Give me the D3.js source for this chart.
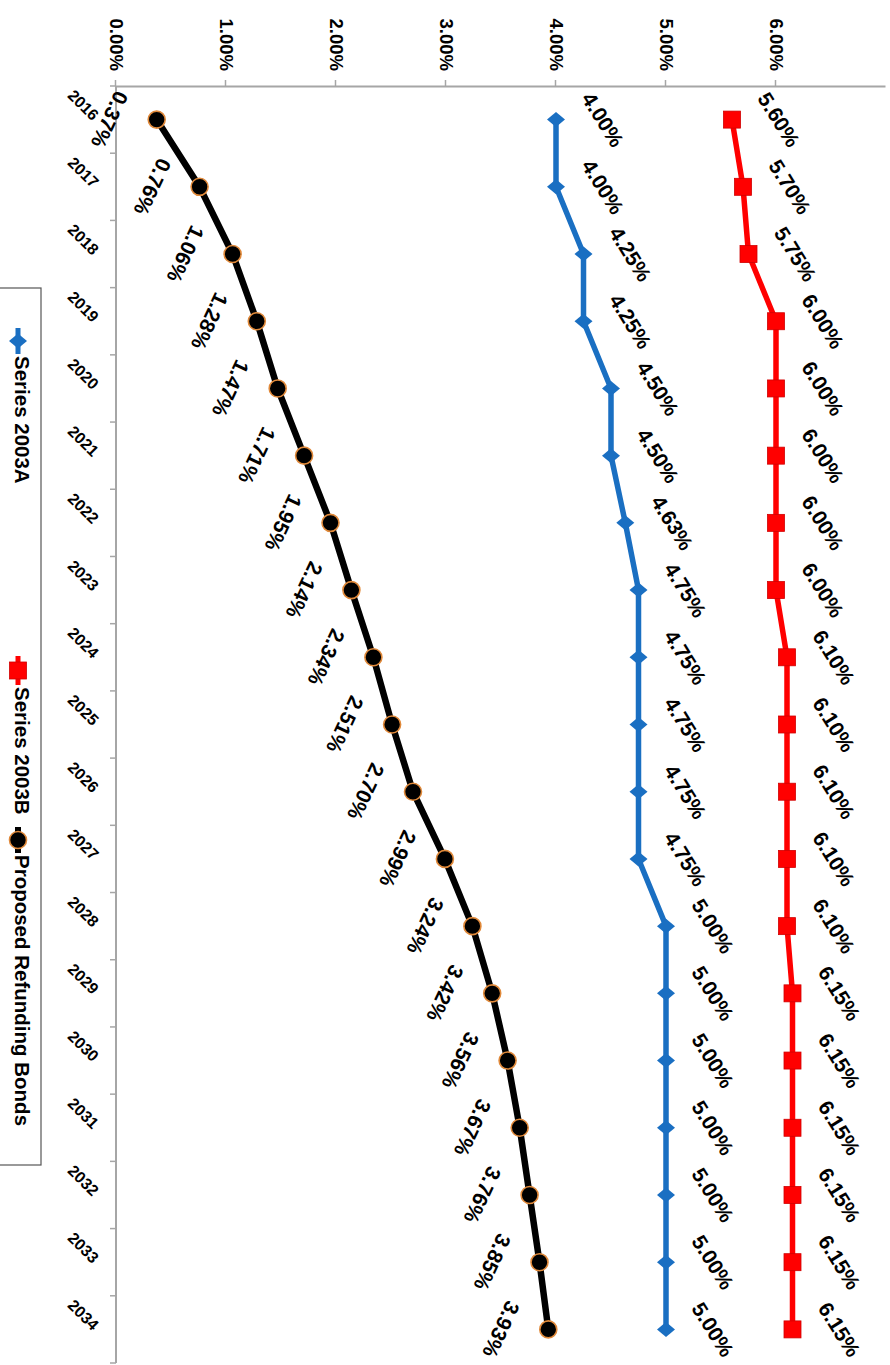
<!DOCTYPE html>
<html><head><meta charset="utf-8">
<script src="https://cdn.jsdelivr.net/npm/d3@7"></script>
<style>
html,body{margin:0;padding:0;background:#fff;}
svg{display:block;}
text{font-family:"Liberation Sans",Arial,sans-serif;}
</style>
</head><body>
<svg id="c" width="890" height="1365"></svg>
<script>
const years = ["2016","2017","2018","2019","2020","2021","2022","2023","2024","2025","2026","2027","2028","2029","2030","2031","2032","2033","2034"];
const series2003A = [4.00,4.00,4.25,4.25,4.50,4.50,4.63,4.75,4.75,4.75,4.75,4.75,5.00,5.00,5.00,5.00,5.00,5.00,5.00];
const series2003B = [5.60,5.70,5.75,6.00,6.00,6.00,6.00,6.00,6.10,6.10,6.10,6.10,6.10,6.15,6.15,6.15,6.15,6.15,6.15];
const proposed = [0.37,0.76,1.06,1.28,1.47,1.71,1.95,2.14,2.34,2.51,2.70,2.99,3.24,3.42,3.56,3.67,3.76,3.85,3.93];
const valueTicks = [0,1,2,3,4,5,6];
const seriesNames = ["Series 2003A","Series 2003B","Proposed Refunding Bonds"];

const pct = d => d3.format(".2f")(d) + "%";

const svg = d3.select("#c");
svg.append("rect").attr("width",890).attr("height",1365).attr("fill","#fff");
// chart is drawn in an unrotated 1365x890 frame, then turned 90deg clockwise
const g = svg.append("g").attr("transform","translate(890,0) rotate(90)");

const x = d3.scaleBand().domain(years).range([86,1363]).padding(0);
const cx = d => x(d) + x.bandwidth()/2;
const y = d3.scaleLinear().domain([0,7]).range([774,4]);

const axisColor = "#a6a6a6";

// value axis
const va = g.append("g").attr("transform","translate(86,0)")
  .call(d3.axisLeft(y).tickValues(valueTicks).tickSizeInner(6).tickSizeOuter(0).tickPadding(9).tickFormat(pct));
va.select(".domain").attr("stroke",axisColor).attr("stroke-width",2);
va.selectAll(".tick line").attr("stroke",axisColor).attr("stroke-width",1.5);
va.selectAll(".tick text").attr("font-size",18.5).attr("font-weight","bold").attr("fill","#000")
  .attr("font-family","'Liberation Sans',Arial,sans-serif");

// category axis
const ca = g.append("g");
ca.append("line").attr("x1",x.range()[0]).attr("x2",x.range()[1]).attr("y1",y(0)).attr("y2",y(0))
  .attr("stroke",axisColor).attr("stroke-width",2);
const bounds = years.map(d => x(d)).concat([x.range()[1]]);
ca.selectAll("line.tk").data(bounds).join("line").attr("class","tk")
  .attr("x1",d=>d).attr("x2",d=>d).attr("y1",y(0)).attr("y2",y(0)+6)
  .attr("stroke",axisColor).attr("stroke-width",1.5);
ca.selectAll("text.yr").data(years).join("text").attr("class","yr")
  .attr("transform",d=>`translate(${cx(d)+2},${y(0)+24}) rotate(-45)`)
  .attr("text-anchor","end").attr("font-size",16).attr("font-weight","bold").attr("fill","#000")
  .text(d=>d);

const line = d3.line().x(d=>cx(d.year)).y(d=>y(d.v));
const mk = arr => years.map((yr,i)=>({year:yr, v:arr[i]}));
const dA = mk(series2003A), dB = mk(series2003B), dP = mk(proposed);

const blue = "#1a6fc2", red = "#ff0000", black = "#000000", orange = "#e0893a";

g.append("path").datum(dA).attr("d",line).attr("fill","none").attr("stroke",blue).attr("stroke-width",5.5).attr("stroke-linejoin","round");
g.append("path").datum(dB).attr("d",line).attr("fill","none").attr("stroke",red).attr("stroke-width",5.5).attr("stroke-linejoin","round");
g.append("path").datum(dP).attr("d",line).attr("fill","none").attr("stroke",black).attr("stroke-width",6.5).attr("stroke-linejoin","round");

const diamond = (hw,hh) => `M0,${-hh}L${hw},0L0,${hh}L${-hw},0Z`;

function drawDiamond(sel){ sel.append("path").attr("d",diamond(7.5,9)).attr("fill",blue); }
function drawSquare(sel){ sel.append("rect").attr("x",-8.5).attr("y",-8.5).attr("width",17).attr("height",17).attr("fill",red).attr("stroke","#d00000").attr("stroke-width",0.8); }
function drawCircle(sel){ sel.append("circle").attr("r",8.5).attr("fill","#000").attr("stroke",orange).attr("stroke-width",1.6); }

g.selectAll("g.mA").data(dA).join("g").attr("class","mA").attr("transform",d=>`translate(${cx(d.year)},${y(d.v)})`).call(drawDiamond);
g.selectAll("g.mB").data(dB).join("g").attr("class","mB").attr("transform",d=>`translate(${cx(d.year)},${y(d.v)})`).call(drawSquare);
g.selectAll("g.mP").data(dP).join("g").attr("class","mP").attr("transform",d=>`translate(${cx(d.year)},${y(d.v)})`).call(drawCircle);

// data labels
function labels(data, off, rot, cls){
  g.selectAll("text."+cls).data(data).join("text").attr("class",cls)
    .attr("transform",d=>`translate(${cx(d.year)},${y(d.v)+off}) rotate(${rot})`)
    .attr("text-anchor","middle").attr("dominant-baseline","central")
    .attr("font-size",21).attr("font-weight","bold").attr("fill","#000")
    .text(d=>pct(d.v));
}
labels(dA,-47,-32,"lA");
labels(dB,-47,-32,"lB");
labels(dP,47,25,"lP");

// legend
const lg = g.append("g");
lg.append("rect").attr("x",288).attr("y",849).attr("width",877).attr("height",45)
  .attr("fill","#fff").attr("stroke","#555").attr("stroke-width",1.2);
const legendItems = [
  {name:seriesNames[0], color:blue, x0:328, x1:354, draw:drawDiamond, w:5},
  {name:seriesNames[1], color:red, x0:656, x1:685, draw:drawSquare, w:5},
  {name:seriesNames[2], color:black, x0:827, x1:853, draw:drawCircle, w:6}
];
const li = lg.selectAll("g.li").data(legendItems).join("g").attr("class","li");
li.append("line").attr("x1",d=>d.x0).attr("x2",d=>d.x1).attr("y1",872).attr("y2",872)
  .attr("stroke",d=>d.color).attr("stroke-width",d=>d.w);
li.each(function(d){ d3.select(this).append("g").attr("transform",`translate(${(d.x0+d.x1)/2},872)`).call(d.draw); });
li.append("text").attr("x",d=>d.x1+2).attr("y",868).attr("dominant-baseline","central")
  .attr("font-size",20.5).attr("font-weight","bold").attr("fill","#000").text(d=>d.name);
</script>
</body></html>
